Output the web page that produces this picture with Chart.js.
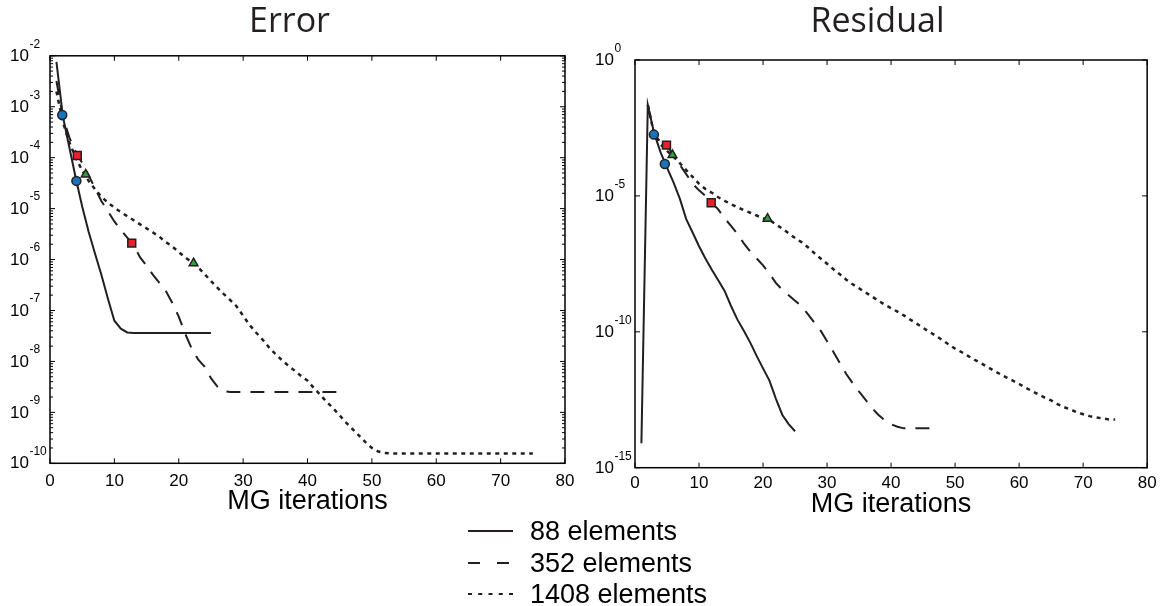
<!DOCTYPE html>
<html><head><meta charset="utf-8">
<script src="https://cdn.jsdelivr.net/npm/chart.js@4.4.1/dist/chart.umd.min.js"></script>
<style>
html,body{margin:0;padding:0;background:#fff;}
#wrap{position:relative;width:1162px;height:606px;overflow:hidden;background:#fff;}
canvas{position:absolute;left:0;top:0;}
.lg{position:absolute;left:468px;height:32px;display:flex;align-items:center;font:27px "Liberation Sans",Arial,sans-serif;color:#000;white-space:nowrap;}
.lg svg{margin-right:17px;display:block;}
</style></head><body>
<div id="wrap">
<canvas id="cErr" width="1162" height="606"></canvas>
<canvas id="cRes" width="1162" height="606"></canvas>
<div class="lg" style="top:515px"><svg width="45" height="4"><line x1="0" y1="2" x2="45" y2="2" stroke="#231f20" stroke-width="2"/></svg><span>88 elements</span></div>
<div class="lg" style="top:547px"><svg width="45" height="4"><line x1="0" y1="2" x2="45" y2="2" stroke="#231f20" stroke-width="2" stroke-dasharray="12 17"/></svg><span>352 elements</span></div>
<div class="lg" style="top:578px"><svg width="45" height="4"><line x1="0" y1="2" x2="45" y2="2" stroke="#231f20" stroke-width="2" stroke-dasharray="4 6.25"/></svg><span>1408 elements</span></div>
</div>
<script>
// ---------- data ----------
const seriesNames = ['88 elements', '352 elements', '1408 elements'];
const xTickLabels = ['0','10','20','30','40','50','60','70','80'];

// Error plot (first value at iteration 1)
const errorStart = 1;
const errorY88 = [7.6e-3, 6.5e-4, 1.6e-4, 4.0e-5, 1.1e-5, 3.5e-6, 1.3e-6, 4.9e-7, 1.7e-7, 6.3e-8,
  4.4e-8, 3.7e-8, 3.6e-8, 3.6e-8, 3.6e-8, 3.6e-8, 3.6e-8, 3.6e-8, 3.6e-8, 3.6e-8,
  3.6e-8, 3.6e-8, 3.6e-8, 3.6e-8, 3.6e-8];
const errorY352 = [3.2e-3, 6.3e-4, 2.5e-4, 1.3e-4, 7.9e-5, 4.5e-5, 2.5e-5, 1.4e-5, 8.9e-6, 5.6e-6,
  3.8e-6, 2.7e-6, 1.9e-6, 1.1e-6, 7.6e-7, 5.0e-7, 3.5e-7, 2.4e-7, 1.4e-7, 7.6e-8,
  3.5e-8, 1.8e-8, 1.1e-8, 7.9e-9, 4.7e-9, 3.2e-9, 2.6e-9, 2.5e-9, 2.5e-9, 2.5e-9,
  2.5e-9, 2.5e-9, 2.5e-9, 2.5e-9, 2.5e-9, 2.5e-9, 2.5e-9, 2.5e-9, 2.5e-9, 2.5e-9,
  2.5e-9, 2.5e-9, 2.5e-9, 2.5e-9, 2.5e-9, 2.5e-9];
const errorY1408 = [2.0e-3, 5.0e-4, 2.0e-4, 1.0e-4, 5.6e-5, 3.5e-5, 2.4e-5, 1.7e-5, 1.3e-5, 1.05e-5,
  8.5e-6, 7.1e-6, 5.9e-6, 4.9e-6, 4.1e-6, 3.4e-6, 2.8e-6, 2.2e-6, 1.8e-6, 1.4e-6,
  1.1e-6, 8.9e-7, 7.1e-7, 5.2e-7, 3.8e-7, 2.8e-7, 2.1e-7, 1.6e-7, 1.2e-7, 7.9e-8,
  5.2e-8, 3.7e-8, 2.7e-8, 1.9e-8, 1.4e-8, 1.07e-8, 8.3e-9, 6.6e-9, 5.2e-9, 4.2e-9,
  3.0e-9, 2.2e-9, 1.6e-9, 1.2e-9, 8.7e-10, 6.3e-10, 4.7e-10, 3.5e-10, 2.6e-10, 2.0e-10,
  1.7e-10, 1.6e-10, 1.55e-10, 1.55e-10, 1.55e-10, 1.55e-10, 1.55e-10, 1.55e-10, 1.55e-10, 1.55e-10,
  1.55e-10, 1.55e-10, 1.55e-10, 1.55e-10, 1.55e-10, 1.55e-10, 1.55e-10, 1.55e-10, 1.55e-10, 1.55e-10,
  1.55e-10, 1.55e-10, 1.55e-10, 1.55e-10, 1.55e-10];
const errorMarkBlueX = [1.9, 4.1],   errorMarkBlueY = [6.9e-4, 3.5e-5];
const errorMarkRedX = [4.24, 12.7],  errorMarkRedY = [1.1e-4, 2.1e-6];
const errorMarkGreenX = [5.54, 22.3], errorMarkGreenY = [4.7e-5, 8.5e-7];
const errorYExponents = [-2, -3, -4, -5, -6, -7, -8, -9, -10];

// Residual plot
const residStart88 = 1;
const residY88 = [7.9e-15, 2.2e-2, 2.0e-3, 4.0e-4, 1.1e-4, 3.2e-5, 7.9e-6, 1.4e-6, 4.5e-7, 1.4e-7,
  5.0e-8, 1.9e-8, 7.9e-9, 3.2e-9, 8.9e-10, 2.8e-10, 1.1e-10, 4.0e-11, 1.3e-11, 4.5e-12,
  1.6e-12, 3.5e-13, 8.9e-14, 4.0e-14, 2.2e-14];
const residStart352 = 2;
const residY352 = [2.2e-2, 1.8e-3, 1.0e-3, 7.1e-4, 3.2e-4, 1.4e-4, 6.3e-5, 2.8e-5, 1.6e-5, 1.0e-5,
  5.6e-6, 3.2e-6, 1.5e-6, 7.9e-7, 4.0e-7, 1.8e-7, 8.9e-8, 5.0e-8, 2.8e-8, 1.4e-8,
  6.3e-9, 3.5e-9, 2.2e-9, 1.4e-9, 8.9e-10, 4.5e-10, 2.2e-10, 1.1e-10, 4.5e-11, 1.8e-11,
  7.1e-12, 2.8e-12, 1.3e-12, 6.3e-13, 3.2e-13, 1.6e-13, 8.9e-14, 5.6e-14, 4.0e-14, 3.2e-14,
  2.8e-14, 2.8e-14, 2.8e-14, 2.8e-14, 2.8e-14, 2.8e-14];
const residStart1408 = 2;
const residY1408 = [2.2e-2, 1.8e-3, 7.9e-4, 4.5e-4, 2.8e-4, 1.6e-4, 8.9e-5, 5.0e-5, 2.8e-5, 1.8e-5,
  1.3e-5, 8.9e-6, 6.6e-6, 5.0e-6, 3.8e-6, 3.0e-6, 2.4e-6, 1.9e-6, 1.5e-6, 1.3e-6,
  8.9e-7, 6.3e-7, 4.2e-7, 2.8e-7, 2.0e-7, 1.3e-7, 7.9e-8, 5.0e-8, 3.2e-8, 2.0e-8,
  1.3e-8, 8.3e-9, 5.6e-9, 4.0e-9, 2.8e-9, 2.0e-9, 1.4e-9, 1.0e-9, 7.4e-10, 5.5e-10,
  4.0e-10, 2.8e-10, 2.0e-10, 1.4e-10, 1.0e-10, 7.1e-11, 5.0e-11, 3.4e-11, 2.4e-11, 1.8e-11,
  1.3e-11, 9.5e-12, 7.1e-12, 5.2e-12, 3.8e-12, 2.8e-12, 2.1e-12, 1.6e-12, 1.2e-12, 8.9e-13,
  6.6e-13, 5.0e-13, 3.8e-13, 3.0e-13, 2.2e-13, 1.7e-13, 1.4e-13, 1.1e-13, 9.3e-14, 7.9e-14,
  7.1e-14, 6.5e-14, 6.0e-14, 5.9e-14];
const residMarkBlueX = [2.95, 4.66],  residMarkBlueY = [1.8e-3, 1.5e-4];
const residMarkRedX = [4.92, 11.9],   residMarkRedY = [7.4e-4, 5.6e-6];
const residMarkGreenX = [5.85, 20.7], residMarkGreenY = [3.2e-4, 1.45e-6];
const residYExponents = [0, -5, -10, -15];

// ---------- helpers ----------
const INK = '#231f20';
const toPoints = (start, vals) => vals.map((v, i) => ({x: start + i, y: v}));
const zipPoints = (xs, ys) => xs.map((x, i) => ({x, y: ys[i]}));
const NUMFONT = '"Liberation Sans", Arial, sans-serif';

const framePlugin = {
  id: 'frame',
  afterDatasetsDraw(chart, args, o) {
    const {ctx, chartArea: a, scales: {x, y}} = chart;
    ctx.save();
    ctx.strokeStyle = '#000';
    ctx.lineWidth = 1.5;
    ctx.strokeRect(a.left, a.top, a.right - a.left, a.bottom - a.top);
    ctx.lineWidth = 1;
    ctx.beginPath();
    x.ticks.forEach(t => {
      const px = x.getPixelForValue(t.value);
      ctx.moveTo(px, a.bottom); ctx.lineTo(px, a.bottom - 5);
      ctx.moveTo(px, a.top); ctx.lineTo(px, a.top + 5);
    });
    o.exponents.forEach(e => {
      const py = y.getPixelForValue(Math.pow(10, e));
      ctx.moveTo(a.left, py); ctx.lineTo(a.left + 5, py);
      ctx.moveTo(a.right, py); ctx.lineTo(a.right - 5, py);
    });
    if (o.minor) {
      o.exponents.slice(1).forEach(e => {
        for (let m = 2; m <= 9; m++) {
          const py = y.getPixelForValue(m * Math.pow(10, e));
          ctx.moveTo(a.left, py); ctx.lineTo(a.left + 3, py);
          ctx.moveTo(a.right, py); ctx.lineTo(a.right - 3, py);
        }
      });
    }
    ctx.stroke();
    // y tick labels: 10 with superscript exponent
    ctx.fillStyle = '#000';
    ctx.textAlign = 'left';
    ctx.textBaseline = 'middle';
    o.exponents.forEach(e => {
      const py = y.getPixelForValue(Math.pow(10, e));
      ctx.font = '17px ' + NUMFONT;
      ctx.fillText('10', o.labelX, py + 0.5);
      const w = ctx.measureText('10').width;
      ctx.font = '12px ' + NUMFONT;
      ctx.fillText(String(e), o.labelX + w + 0.5, py - 11.5);
    });
    ctx.restore();
  }
};

function lineSet(label, data, dash, width) {
  return {label, data, borderColor: INK, borderWidth: width, borderDash: dash,
    pointRadius: 0, fill: false, tension: 0, showLine: true, order: 2};
}
function markSet(label, data, style, fill, r) {
  return {label, data, showLine: false, pointStyle: style, pointRadius: r,
    pointBackgroundColor: fill, pointBorderColor: INK, pointBorderWidth: 1.5,
    backgroundColor: fill, borderColor: INK, order: 1};
}

function makeChart(id, cfg) {
  return new Chart(document.getElementById(id), {
    type: 'line',
    data: {datasets: cfg.datasets},
    plugins: [framePlugin],
    options: {
      responsive: false, animation: false, devicePixelRatio: 1,
      layout: {padding: {left: cfg.padLeft, right: cfg.padRight, top: 0, bottom: 0}},
      plugins: {
        legend: {display: false}, tooltip: {enabled: false},
        title: {display: true, text: cfg.title, color: INK,
          font: {family: '"Open Sans", "Noto Sans", sans-serif', size: 34, weight: 'normal'},
          padding: {top: 2, bottom: cfg.titleBottom}},
        frame: {exponents: cfg.exponents, minor: cfg.minor, labelX: cfg.labelX}
      },
      scales: {
        x: {type: 'linear', min: 0, max: 80,
          afterFit(s) { s.height = cfg.xHeight; },
          grid: {display: false, drawTicks: false}, border: {display: false},
          ticks: {stepSize: 10, color: '#000', padding: cfg.tickPad, maxRotation: 0, autoSkip: false,
            font: {family: NUMFONT, size: 17},
            callback: (v, i) => xTickLabels[i]},
          title: {display: true, text: 'MG iterations', color: '#000',
            font: {family: NUMFONT, size: 27}, padding: {top: 0, bottom: cfg.xTitleBottom}}},
        y: {type: 'logarithmic', min: cfg.ymin, max: cfg.ymax,
          afterFit(s) { s.width = cfg.yWidth; },
          grid: {display: false}, border: {display: false}, ticks: {display: false}}
      }
    }
  });
}

makeChart('cErr', {
  title: 'Error', padLeft: 14, padRight: 597, yWidth: 36, titleBottom: 13,
  xHeight: 142.7, tickPad: 8.2, xTitleBottom: 87.8,
  ymin: 1e-10, ymax: 1e-2, exponents: errorYExponents, minor: true, labelX: 10,
  datasets: [
    lineSet(seriesNames[0], toPoints(errorStart, errorY88), [], 2),
    lineSet(seriesNames[1], toPoints(errorStart, errorY352), [14, 10], 2),
    lineSet(seriesNames[2], toPoints(errorStart, errorY1408), [4, 4.5], 2.5),
    markSet('m1', zipPoints(errorMarkBlueX, errorMarkBlueY), 'circle', '#1a72bb', 4.5),
    markSet('m2', zipPoints(errorMarkRedX, errorMarkRedY), 'rect', '#e8202a', 5.6),
    markSet('m3', zipPoints(errorMarkGreenX, errorMarkGreenY), 'triangle', '#2ea03c', 5)
  ]
});

makeChart('cRes', {
  title: 'Residual', padLeft: 605, padRight: 12, yWidth: 30, titleBottom: 17.2,
  xHeight: 138.3, tickPad: 5.4, xTitleBottom: 84.8,
  ymin: 1e-15, ymax: 1, exponents: residYExponents, minor: false, labelX: 595,
  datasets: [
    lineSet(seriesNames[0], toPoints(residStart88, residY88), [], 2),
    lineSet(seriesNames[1], toPoints(residStart352, residY352), [14, 10], 2),
    lineSet(seriesNames[2], toPoints(residStart1408, residY1408), [4, 4.5], 2.5),
    markSet('m1', zipPoints(residMarkBlueX, residMarkBlueY), 'circle', '#1a72bb', 4.5),
    markSet('m2', zipPoints(residMarkRedX, residMarkRedY), 'rect', '#e8202a', 5.6),
    markSet('m3', zipPoints(residMarkGreenX, residMarkGreenY), 'triangle', '#2ea03c', 5)
  ]
});
</script>
</body></html>
